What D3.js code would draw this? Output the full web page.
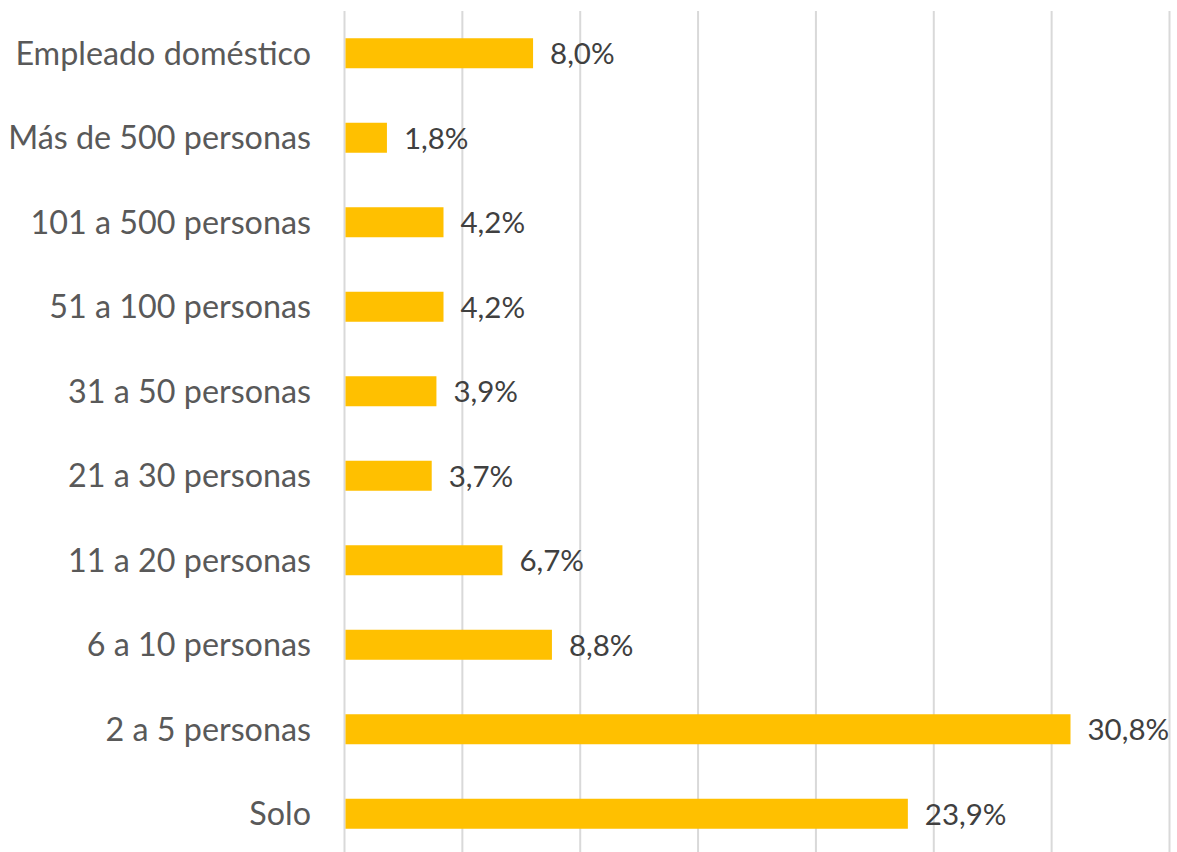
<!DOCTYPE html>
<html><head><meta charset="utf-8">
<script src="https://cdn.jsdelivr.net/npm/d3@7"></script>
<style>body{margin:0;background:#fff;} svg{display:block;}</style>
</head><body>
<svg id="c" width="1177" height="852"></svg>
<script>
const categories = ["Empleado doméstico","Más de 500 personas","101 a 500 personas","51 a 100 personas","31 a 50 personas","21 a 30 personas","11 a 20 personas","6 a 10 personas","2 a 5 personas","Solo"];
const values = [8.0,1.8,4.2,4.2,3.9,3.7,6.7,8.8,30.8,23.9];
const xTicks = [0,5,10,15,20,25,30,35];

const svg = d3.select("#c");
const font = "Lato, 'Open Sans', sans-serif";
const x = d3.scaleLinear().domain([0,35]).range([344.5,1169.5]);
const y = d3.scaleBand().domain(categories).range([11,856]).paddingInner(0.645).paddingOuter(0.3225);

svg.append("g").selectAll("line").data(xTicks).join("line")
  .attr("x1",d=>x(d)).attr("x2",d=>x(d)).attr("y1",11).attr("y2",856)
  .attr("stroke","#d9d9d9").attr("stroke-width",2);

svg.append("g").selectAll("rect").data(values).join("rect")
  .attr("x",x(0)+1).attr("y",(d,i)=>y(categories[i]))
  .attr("width",d=>x(d)-x(0)-1).attr("height",y.bandwidth())
  .attr("fill","#ffc000");

svg.append("g").selectAll("text").data(values).join("text")
  .attr("x",d=>x(d)+17).attr("y",(d,i)=>y(categories[i])+y.bandwidth()/2)
  .attr("dy","0.37em").attr("font-family",font).attr("font-size",29.5).attr("fill","#404040")
  .text(d=>d.toFixed(1).replace(".",",")+"%");

svg.append("g").selectAll("text").data(categories).join("text")
  .attr("x",311).attr("y",d=>y(d)+y.bandwidth()/2)
  .attr("dy","0.35em").attr("text-anchor","end").attr("font-family",font).attr("font-size",32.3).attr("fill","#595959")
  .text(d=>d);
</script>
</body></html>
